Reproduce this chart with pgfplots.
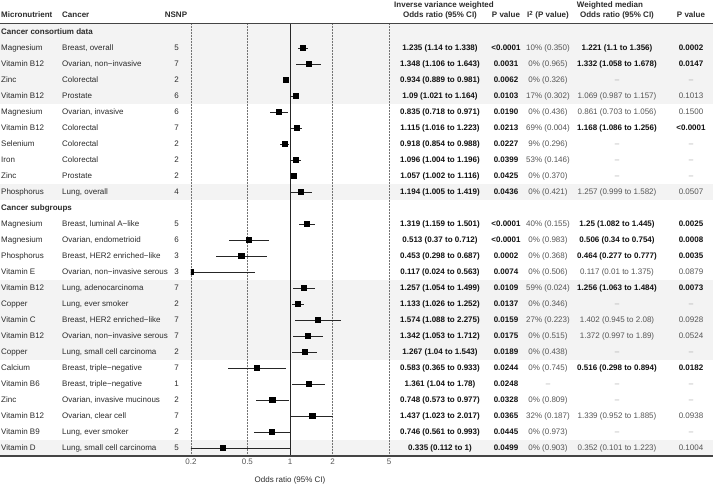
\documentclass[border=0pt]{standalone}
\usepackage{fontspec}
\setmainfont{Liberation Sans}
\usepackage{pgfplots}
\pgfplotsset{compat=1.18}
\usepackage{pgfplotstable}
\definecolor{band}{HTML}{F3F3F3}
\definecolor{txt}{HTML}{2B2B2B}
\definecolor{txtb}{HTML}{111111}
\definecolor{txtg}{HTML}{555555}
\definecolor{dashc}{HTML}{A0A0A0}
\definecolor{rulec}{HTML}{444444}

\pgfplotstableread{
row pos lo hi
1 1.235 1.14 1.338
2 1.348 1.106 1.643
3 0.934 0.889 0.981
4 1.09 1.021 1.164
5 0.835 0.718 0.971
6 1.115 1.016 1.223
7 0.918 0.854 0.988
8 1.096 1.004 1.196
9 1.057 1.002 1.116
10 1.194 1.005 1.419
12 1.319 1.159 1.501
13 0.513 0.37 0.712
14 0.453 0.298 0.687
15 0.2 0.024 0.563
16 1.257 1.054 1.499
17 1.133 1.026 1.252
18 1.574 1.088 2.275
19 1.342 1.053 1.712
20 1.267 1.04 1.543
21 0.583 0.365 0.933
22 1.361 1.04 1.78
23 0.748 0.573 0.977
24 1.437 1.023 2.017
25 0.746 0.561 0.993
26 0.335 0.112 1
}\ortable

\newcommand{\B}[1]{{\bfseries\color{txtb}#1}}
\newcommand{\N}[1]{{\color{txtg}#1}}
\newcommand{\D}{{\color{dashc}–}}
\newcommand{\trow}[9]{%
  \pgfmathsetmacro\yy{424-16*#1-2.9}%
  \node[t, anchor=base west] at (-190,\yy) {#2};%
  \node[t, anchor=base west] at (-129,\yy) {#3};%
  \node[t, anchor=base] at (-14.5,\yy) {#4};%
  \node[t, anchor=base] at (249,\yy) {\B{#5}};%
  \node[t, anchor=base] at (315,\yy) {\B{#6}};%
  \node[t, anchor=base] at (357,\yy) {\N{#7}};%
  \node[t, anchor=base] at (426,\yy) {#8};%
  \node[t, anchor=base] at (500,\yy) {#9};%
}

\begin{document}
\fontsize{8}{9.6}\selectfont
\begin{tikzpicture}[x=1pt,y=1pt, t/.style={inner sep=0pt, text=txt}]
\path[use as bounding box] (-191,-29) rectangle (522,456);
\fill[band] (-191,432) rectangle (522,352);
\fill[band] (-191,272) rectangle (522,256);
\fill[band] (-191,176) rectangle (522,96);
\fill[band] (-191,16) rectangle (522,0);

\begin{axis}[at={(0,0)}, anchor=south west, scale only axis,
  width=198pt, height=432pt,
  xmode=log, log basis x=10, xmin=0.2, xmax=5,
  ymin=-0.5, ymax=26.5, y dir=reverse, ytick=\empty,
  xtick={0.2,0.5,1,2,5}, xticklabels={0.2,0.5,1,2,5},
  xmajorgrids, grid style={black!55, line width=0.5pt, dash pattern=on 0.6pt off 0.9pt},
  axis line style={draw=none}, major tick length=0pt,
  tick label style={font=\fontsize{8}{9.6}\selectfont, text=txtg},
  clip marker paths=true]
\addplot[black!85, line width=0.8pt] coordinates {(1,-0.5) (1,26.5)};
\addplot[only marks, mark=square*, mark size=2.6pt, black,
  error bars/.cd, x dir=both, x explicit, error mark=none,
  error bar style={line width=0.8pt, black!85}]
  table[x=pos, y=row, x error plus expr=\thisrow{hi}-\thisrow{pos},
        x error minus expr=\thisrow{pos}-\thisrow{lo}] {\ortable};
\end{axis}

\draw[rulec, line width=1.2pt] (-191,432.5) -- (522,432.5);
\draw[rulec, line width=1.2pt] (-191,0) -- (522,0);

% headers
\node[t, font=\bfseries, anchor=base west] at (-190,438) {Micronutrient};
\node[t, font=\bfseries, anchor=base west] at (-129,438) {Cancer};
\node[t, font=\bfseries, anchor=base] at (-15,438) {NSNP};
\node[t, font=\bfseries, anchor=base] at (253,448.5) {Inverse variance weighted};
\node[t, font=\bfseries, anchor=base] at (249,438) {Odds ratio (95\% CI)};
\node[t, font=\bfseries, anchor=base] at (315,438) {P value};
\node[t, font=\bfseries, anchor=base] at (357,438) {I\textsuperscript{2} (P value)};
\node[t, font=\bfseries, anchor=base] at (419,448.5) {Weighted median};
\node[t, font=\bfseries, anchor=base] at (426,438) {Odds ratio (95\% CI)};
\node[t, font=\bfseries, anchor=base] at (500,438) {P value};

\node[t, font=\bfseries, anchor=base west] at (-190,421.1) {Cancer consortium data};
\node[t, font=\bfseries, anchor=base west] at (-190,245.1) {Cancer subgroups};

\trow{1}{Magnesium}{Breast, overall}{5}{1.235 (1.14 to 1.338)}{<0.0001}{10\% (0.350)}{\B{1.221 (1.1 to 1.356)}}{\B{0.0002}}
\trow{2}{Vitamin B12}{Ovarian, non−invasive}{7}{1.348 (1.106 to 1.643)}{0.0031}{0\% (0.965)}{\B{1.332 (1.058 to 1.678)}}{\B{0.0147}}
\trow{3}{Zinc}{Colorectal}{2}{0.934 (0.889 to 0.981)}{0.0062}{0\% (0.326)}{\D}{\D}
\trow{4}{Vitamin B12}{Prostate}{6}{1.09 (1.021 to 1.164)}{0.0103}{17\% (0.302)}{\N{1.069 (0.987 to 1.157)}}{\N{0.1013}}
\trow{5}{Magnesium}{Ovarian, invasive}{6}{0.835 (0.718 to 0.971)}{0.0190}{0\% (0.436)}{\N{0.861 (0.703 to 1.056)}}{\N{0.1500}}
\trow{6}{Vitamin B12}{Colorectal}{7}{1.115 (1.016 to 1.223)}{0.0213}{69\% (0.004)}{\B{1.168 (1.086 to 1.256)}}{\B{<0.0001}}
\trow{7}{Selenium}{Colorectal}{2}{0.918 (0.854 to 0.988)}{0.0227}{9\% (0.296)}{\D}{\D}
\trow{8}{Iron}{Colorectal}{2}{1.096 (1.004 to 1.196)}{0.0399}{53\% (0.146)}{\D}{\D}
\trow{9}{Zinc}{Prostate}{2}{1.057 (1.002 to 1.116)}{0.0425}{0\% (0.370)}{\D}{\D}
\trow{10}{Phosphorus}{Lung, overall}{4}{1.194 (1.005 to 1.419)}{0.0436}{0\% (0.421)}{\N{1.257 (0.999 to 1.582)}}{\N{0.0507}}
\trow{12}{Magnesium}{Breast, luminal A−like}{5}{1.319 (1.159 to 1.501)}{<0.0001}{40\% (0.155)}{\B{1.25 (1.082 to 1.445)}}{\B{0.0025}}
\trow{13}{Magnesium}{Ovarian, endometrioid}{6}{0.513 (0.37 to 0.712)}{<0.0001}{0\% (0.983)}{\B{0.506 (0.34 to 0.754)}}{\B{0.0008}}
\trow{14}{Phosphorus}{Breast, HER2 enriched−like}{3}{0.453 (0.298 to 0.687)}{0.0002}{0\% (0.368)}{\B{0.464 (0.277 to 0.777)}}{\B{0.0035}}
\trow{15}{Vitamin E}{Ovarian, non−invasive serous}{3}{0.117 (0.024 to 0.563)}{0.0074}{0\% (0.506)}{\N{0.117 (0.01 to 1.375)}}{\N{0.0879}}
\trow{16}{Vitamin B12}{Lung, adenocarcinoma}{7}{1.257 (1.054 to 1.499)}{0.0109}{59\% (0.024)}{\B{1.256 (1.063 to 1.484)}}{\B{0.0073}}
\trow{17}{Copper}{Lung, ever smoker}{2}{1.133 (1.026 to 1.252)}{0.0137}{0\% (0.346)}{\D}{\D}
\trow{18}{Vitamin C}{Breast, HER2 enriched−like}{7}{1.574 (1.088 to 2.275)}{0.0159}{27\% (0.223)}{\N{1.402 (0.945 to 2.08)}}{\N{0.0928}}
\trow{19}{Vitamin B12}{Ovarian, non−invasive serous}{7}{1.342 (1.053 to 1.712)}{0.0175}{0\% (0.515)}{\N{1.372 (0.997 to 1.89)}}{\N{0.0524}}
\trow{20}{Copper}{Lung, small cell carcinoma}{2}{1.267 (1.04 to 1.543)}{0.0189}{0\% (0.438)}{\D}{\D}
\trow{21}{Calcium}{Breast, triple−negative}{7}{0.583 (0.365 to 0.933)}{0.0244}{0\% (0.745)}{\B{0.516 (0.298 to 0.894)}}{\B{0.0182}}
\trow{22}{Vitamin B6}{Breast, triple−negative}{1}{1.361 (1.04 to 1.78)}{0.0248}{\D}{\D}{\D}
\trow{23}{Zinc}{Ovarian, invasive mucinous}{2}{0.748 (0.573 to 0.977)}{0.0328}{0\% (0.809)}{\D}{\D}
\trow{24}{Vitamin B12}{Ovarian, clear cell}{7}{1.437 (1.023 to 2.017)}{0.0365}{32\% (0.187)}{\N{1.339 (0.952 to 1.885)}}{\N{0.0938}}
\trow{25}{Vitamin B9}{Lung, ever smoker}{2}{0.746 (0.561 to 0.993)}{0.0445}{0\% (0.973)}{\D}{\D}
\trow{26}{Vitamin D}{Lung, small cell carcinoma}{5}{0.335 (0.112 to 1)}{0.0499}{0\% (0.903)}{\N{0.352 (0.101 to 1.223)}}{\N{0.1004}}

\node[t, anchor=base] at (99,-27) {Odds ratio (95\% CI)};
\end{tikzpicture}
\end{document}
